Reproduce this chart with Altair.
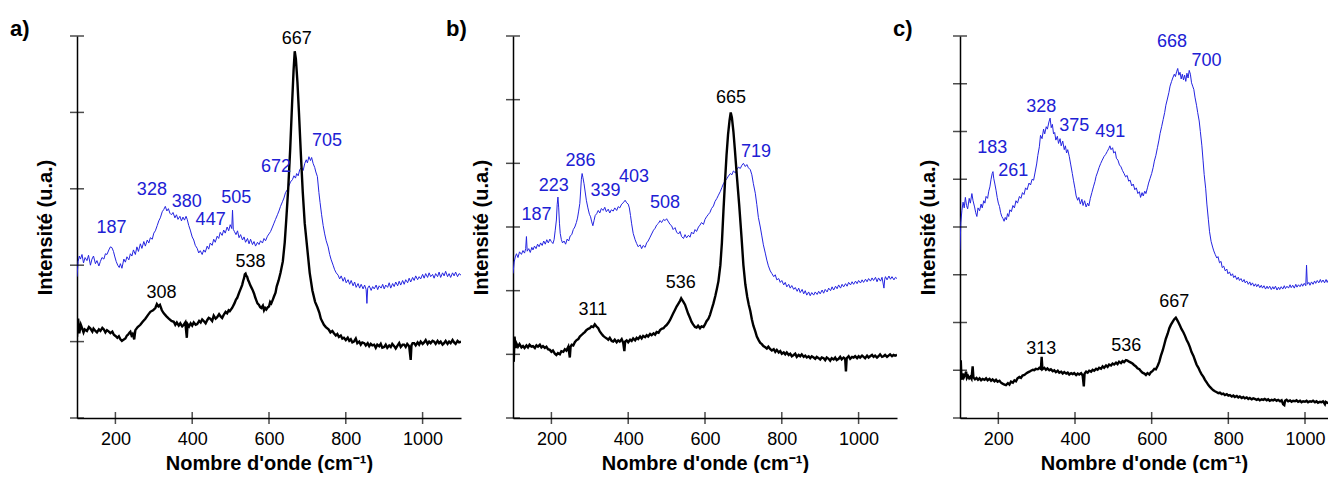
import altair as alt
import pandas as pd

FONT = "Liberation Sans"
BLUE_LINE = "#2424e0"
BLUE_TXT = "#2020d4"

# ---------------- panel a ----------------
wa_k = [100,103,106,110,113,117,120,126,131,135,140,143,148,152,157,161,166,170,174,178,183,187,192,196,201,205,209,213,217,220,226,230,233,237,239,242,245,249,252,258,265,271,278,285,291,298,304,308,312,316,321,326,333,339,346,352,356,360,365,369,374,378,382,386,388,392,396,400,404,409,413,418,422,426,430,435,439,443,447,452,456,461,465,470,474,478,482,487,491,495,498,504,510,514,517,520,523,527,530,533,535,537,539,541,543,546,548,551,554,557,561,564,567,570,574,577,580,584,587,590,593,597,600,603,606,610,613,617,620,625,630,636,641,645,650,655,660,664,667,670,674,678,683,688,693,700,706,713,720,726,731,735,739,743,748,755,760,765,769,774,778,782,787,791,795,800,805,809,813,817,821,826,830,835,839,843,848,852,857,861,865,869,874,878,882,887,891,895,900,904,908,913,917,921,926,930,935,939,943,948,952,956,960,965,969,971,974,978,982,987,991,995,1000,1004,1008,1013,1017,1021,1026,1030,1034,1039,1043,1047,1052,1056,1060,1065,1069,1073,1078,1082,1086,1091,1095,1100]
ia_k = [1.06,1.30,1.11,1.22,1.18,1.12,1.16,1.14,1.19,1.17,1.13,1.17,1.14,1.12,1.16,1.14,1.18,1.16,1.12,1.15,1.13,1.11,1.13,1.09,1.07,1.05,1.07,1.03,1.01,1.02,1.04,1.08,1.09,1.12,1.13,1.08,1.10,1.03,1.15,1.19,1.22,1.26,1.30,1.35,1.39,1.41,1.44,1.49,1.46,1.48,1.41,1.37,1.33,1.30,1.27,1.26,1.22,1.25,1.21,1.24,1.20,1.22,1.25,1.05,1.23,1.20,1.24,1.21,1.25,1.22,1.23,1.27,1.25,1.29,1.27,1.24,1.28,1.31,1.30,1.27,1.34,1.30,1.32,1.36,1.33,1.31,1.35,1.39,1.37,1.41,1.40,1.44,1.50,1.55,1.57,1.61,1.65,1.70,1.74,1.80,1.83,1.88,1.89,1.86,1.85,1.80,1.78,1.74,1.71,1.68,1.63,1.58,1.54,1.50,1.48,1.45,1.44,1.47,1.41,1.44,1.42,1.45,1.46,1.52,1.50,1.55,1.59,1.64,1.72,1.80,1.90,2.05,2.30,2.60,3.00,3.50,4.10,4.55,4.80,4.70,4.40,4.00,3.45,2.95,2.55,2.20,1.90,1.67,1.52,1.45,1.38,1.30,1.26,1.22,1.19,1.16,1.12,1.14,1.11,1.08,1.10,1.06,1.08,1.04,1.05,1.02,1.05,1.01,1.03,0.99,1.00,1.04,0.98,1.00,0.96,0.99,0.98,0.95,0.98,0.94,0.97,0.95,0.96,0.92,0.96,0.94,0.97,0.92,0.93,0.96,0.92,0.95,0.93,0.97,0.94,0.91,0.95,0.98,0.93,0.96,0.96,0.93,0.97,0.94,0.76,0.95,0.98,0.98,0.95,0.99,0.96,1.00,0.97,0.99,1.02,0.97,1.00,0.98,1.01,1.00,0.97,1.01,0.98,1.00,0.96,0.98,1.01,0.97,1.00,0.98,1.02,0.99,0.97,1.01,0.99,1.00]

wa_b = [100,103,106,109,113,117,121,126,130,135,139,143,148,152,157,161,165,170,174,178,183,187,191,195,198,202,206,210,213,217,222,226,230,235,239,243,247,252,256,260,265,269,274,278,283,287,291,296,300,304,309,313,317,322,326,330,334,338,342,346,350,355,359,363,368,372,376,380,384,387,391,395,400,404,408,413,417,421,426,430,434,439,443,447,452,456,460,465,469,473,478,482,486,491,495,499,503,505,507,510,514,518,522,526,531,535,539,544,548,552,557,561,565,570,574,578,583,587,591,596,600,604,609,613,617,622,626,630,635,639,643,648,652,656,661,665,669,672,676,680,685,689,693,697,700,704,708,711,715,719,722,726,730,733,737,741,745,749,754,758,762,767,771,775,780,784,788,793,797,801,806,810,814,819,823,827,832,836,840,845,849,853,855,857,861,866,870,874,879,883,887,892,896,900,904,909,913,917,922,926,930,935,939,943,948,952,956,961,965,969,974,978,982,987,991,995,1000,1004,1008,1013,1017,1021,1026,1030,1034,1039,1043,1047,1052,1056,1060,1065,1069,1073,1078,1082,1086,1091,1095,1100]
ia_b = [1.85,2.05,2.12,2.08,2.14,2.03,2.10,2.06,2.13,2.00,2.08,2.12,2.02,2.06,1.99,2.05,2.10,2.08,2.15,2.14,2.20,2.24,2.23,2.18,2.12,2.05,2.00,1.97,2.02,1.96,2.08,2.04,2.11,2.07,2.15,2.12,2.20,2.14,2.24,2.18,2.28,2.22,2.31,2.25,2.33,2.29,2.36,2.34,2.42,2.45,2.52,2.58,2.62,2.70,2.73,2.77,2.71,2.74,2.68,2.66,2.69,2.62,2.66,2.60,2.64,2.58,2.63,2.59,2.64,2.60,2.52,2.46,2.37,2.33,2.26,2.22,2.16,2.19,2.14,2.20,2.17,2.25,2.21,2.29,2.26,2.34,2.30,2.38,2.35,2.43,2.39,2.46,2.42,2.50,2.45,2.53,2.48,2.72,2.47,2.44,2.40,2.45,2.36,2.40,2.33,2.37,2.30,2.35,2.28,2.34,2.27,2.31,2.25,2.30,2.27,2.32,2.29,2.35,2.32,2.38,2.41,2.44,2.50,2.55,2.60,2.66,2.71,2.77,2.83,2.88,2.95,2.99,3.04,3.09,3.12,3.17,3.14,3.20,3.17,3.25,3.28,3.24,3.33,3.38,3.34,3.42,3.37,3.41,3.33,3.28,3.22,3.16,2.95,2.82,2.66,2.52,2.41,2.32,2.24,2.14,2.07,2.00,1.94,1.90,1.87,1.82,1.86,1.79,1.84,1.77,1.81,1.75,1.80,1.73,1.78,1.71,1.76,1.70,1.75,1.69,1.74,1.68,1.50,1.70,1.73,1.67,1.72,1.69,1.74,1.68,1.73,1.70,1.75,1.69,1.74,1.71,1.77,1.70,1.76,1.72,1.78,1.73,1.79,1.74,1.80,1.75,1.81,1.77,1.83,1.78,1.84,1.80,1.86,1.81,1.85,1.82,1.88,1.83,1.89,1.84,1.90,1.85,1.88,1.83,1.89,1.85,1.91,1.84,1.90,1.86,1.92,1.85,1.89,1.84,1.90,1.86,1.91,1.85,1.89,1.87]

la_k_txt = ["667", "308", "538"]
la_k_w = [672, 320, 552]
la_k_v = [4.96, 1.64, 2.04]
la_b_txt = ["187", "328", "380", "447", "505", "672", "705"]
la_b_w = [190, 295, 386, 448, 515, 618, 751]
la_b_v = [2.49, 2.98, 2.83, 2.59, 2.88, 3.28, 3.62]

# ---------------- panel b ----------------
wb_k = [100,102,104,107,109,113,117,122,126,130,135,139,143,148,152,157,161,165,170,174,178,183,187,191,196,200,204,209,213,217,222,226,231,235,239,244,248,250,253,257,261,265,270,274,278,283,287,291,296,300,304,309,313,317,322,326,331,335,339,344,348,352,357,361,365,370,374,378,383,387,390,392,396,400,405,409,413,418,422,426,431,435,439,444,448,452,457,461,466,470,474,479,483,487,492,496,500,505,509,513,517,522,526,530,535,538,540,543,546,548,552,556,561,565,569,574,578,582,587,591,596,600,604,609,613,617,622,627,631,635,640,644,648,652,656,660,664,667,670,674,678,683,689,695,700,705,710,714,718,722,726,731,735,740,744,748,752,757,761,765,770,774,779,783,787,792,796,800,805,809,813,818,822,826,831,835,839,844,848,852,857,861,865,870,874,878,883,887,891,896,900,904,909,913,917,922,926,930,935,939,943,948,952,956,961,965,967,969,974,978,983,987,991,996,1000,1004,1009,1013,1017,1022,1026,1030,1035,1039,1043,1048,1052,1056,1061,1065,1069,1074,1078,1082,1087,1091,1095,1100]
ib_k = [1.02,0.88,1.28,1.10,1.17,1.12,1.16,1.11,1.13,1.10,1.14,1.11,1.15,1.12,1.13,1.10,1.14,1.12,1.15,1.11,1.13,1.10,1.12,1.08,1.07,1.04,1.06,1.01,0.99,1.02,1.00,1.05,1.04,1.08,1.06,1.12,0.95,1.12,1.15,1.14,1.19,1.22,1.24,1.28,1.30,1.33,1.35,1.38,1.40,1.41,1.44,1.43,1.47,1.44,1.41,1.36,1.32,1.29,1.27,1.25,1.23,1.26,1.21,1.20,1.23,1.19,1.22,1.20,1.24,1.18,1.05,1.20,1.22,1.19,1.23,1.21,1.25,1.22,1.26,1.24,1.28,1.25,1.29,1.27,1.30,1.28,1.32,1.30,1.33,1.31,1.35,1.34,1.38,1.40,1.41,1.44,1.46,1.50,1.54,1.59,1.64,1.70,1.75,1.79,1.84,1.88,1.86,1.83,1.80,1.78,1.71,1.64,1.57,1.51,1.47,1.43,1.42,1.45,1.41,1.44,1.43,1.47,1.52,1.56,1.62,1.70,1.80,1.92,2.03,2.15,2.40,2.75,3.25,3.70,4.12,4.45,4.68,4.80,4.72,4.50,4.20,3.80,3.35,2.85,2.40,2.10,1.90,1.78,1.68,1.55,1.45,1.36,1.28,1.22,1.18,1.16,1.13,1.11,1.09,1.12,1.08,1.06,1.08,1.04,1.07,1.03,1.05,1.01,1.03,1.00,1.03,0.99,1.01,0.97,0.99,1.01,0.96,0.99,0.97,1.00,0.96,0.98,0.95,0.97,0.94,0.97,0.95,0.93,0.96,0.94,0.92,0.95,0.94,0.91,0.95,0.93,0.90,0.94,0.92,0.95,0.91,0.93,0.96,0.92,0.95,0.93,0.73,0.94,0.97,0.93,0.96,0.95,0.97,0.94,0.97,0.95,0.98,0.96,0.94,0.98,0.95,0.97,0.99,0.96,0.98,0.95,0.97,1.00,0.96,0.97,0.99,0.96,0.98,1.00,0.97,0.99,0.98,0.99]

wb_b = [100,103,106,109,113,117,122,126,130,133,135,137,141,145,149,152,156,160,164,168,172,176,180,184,188,192,196,200,204,207,210,213,215,217,219,221,223,226,229,233,237,241,245,249,253,257,261,265,268,271,274,276,278,280,282,285,288,291,295,299,302,305,308,311,314,318,322,326,330,335,339,343,348,352,356,361,365,370,374,378,383,387,392,396,400,403,406,409,413,418,422,426,431,435,439,444,448,452,457,461,466,470,474,479,483,487,492,496,500,505,509,513,517,522,526,531,535,539,544,548,552,557,561,565,570,574,578,583,587,591,596,600,604,609,613,617,622,626,631,635,640,644,648,652,657,661,666,670,674,679,683,687,692,696,700,705,709,713,718,722,726,731,735,739,744,748,752,757,761,765,770,774,779,783,787,792,796,800,805,809,813,818,822,826,831,835,840,844,848,853,857,861,865,870,874,878,883,887,892,896,900,905,909,913,918,922,927,931,935,940,944,948,953,957,961,966,970,974,979,983,987,992,996,1000,1005,1009,1013,1018,1022,1026,1031,1035,1039,1044,1048,1052,1057,1061,1066,1068,1070,1074,1079,1083,1087,1092,1096,1100]
ib_b = [2.27,2.45,2.53,2.58,2.52,2.61,2.57,2.63,2.59,2.66,2.85,2.62,2.66,2.60,2.68,2.64,2.70,2.66,2.73,2.69,2.75,2.71,2.78,2.73,2.80,2.75,2.81,2.77,2.74,2.80,2.95,3.11,3.35,3.47,3.30,3.06,2.90,2.80,2.75,2.78,2.73,2.81,2.78,2.86,2.88,2.96,3.00,3.07,3.14,3.25,3.37,3.55,3.75,3.84,3.78,3.68,3.55,3.42,3.30,3.20,3.16,3.08,3.02,3.10,3.18,3.21,3.26,3.22,3.29,3.26,3.31,3.24,3.28,3.22,3.27,3.25,3.30,3.26,3.32,3.30,3.36,3.38,3.42,3.38,3.36,3.30,3.18,3.05,2.90,2.80,2.74,2.69,2.72,2.66,2.71,2.68,2.75,2.78,2.84,2.89,2.95,2.98,3.03,3.06,3.10,3.07,3.12,3.10,3.13,3.08,3.04,3.02,2.96,2.99,2.92,2.89,2.93,2.85,2.82,2.88,2.83,2.87,2.84,2.92,2.89,2.96,2.93,3.00,3.03,3.07,3.04,3.12,3.16,3.20,3.23,3.29,3.33,3.40,3.45,3.50,3.56,3.62,3.68,3.72,3.76,3.80,3.84,3.82,3.88,3.85,3.90,3.94,3.92,3.97,4.00,3.95,3.98,3.93,3.90,3.82,3.68,3.53,3.35,3.15,3.00,2.86,2.72,2.59,2.48,2.39,2.31,2.27,2.22,2.25,2.17,2.19,2.13,2.16,2.09,2.13,2.06,2.10,2.04,2.08,2.02,2.05,1.99,2.04,1.97,2.02,1.95,2.00,1.93,1.98,1.92,1.97,1.93,1.98,1.94,1.99,1.95,2.01,1.96,2.02,1.98,2.04,2.00,2.06,2.01,2.07,2.03,2.09,2.04,2.10,2.06,2.11,2.07,2.13,2.09,2.14,2.10,2.15,2.11,2.16,2.12,2.17,2.13,2.18,2.14,2.19,2.15,2.20,2.16,2.21,2.14,2.20,2.15,2.21,2.04,2.18,2.22,2.17,2.23,2.18,2.22,2.17,2.21,2.19]

lb_k_txt = ["665", "536", "311"]
lb_k_w = [668, 537, 308]
lb_k_v = [5.02, 2.12, 1.70]
lb_b_txt = ["187", "223", "286", "339", "403", "508", "719"]
lb_b_w = [161, 206, 276, 341, 415, 496, 733]
lb_b_v = [3.19, 3.64, 4.03, 3.57, 3.79, 3.37, 4.18]

# ---------------- panel c ----------------
wc_k = [100,102,104,107,110,113,116,118,121,124,127,130,133,135,139,143,147,151,155,159,164,168,172,177,181,185,190,194,198,203,207,211,216,220,225,229,233,238,242,246,250,255,259,263,268,272,276,281,285,290,294,298,303,307,311,313,315,320,324,328,333,337,342,346,350,355,359,364,368,372,377,381,385,390,394,398,403,407,411,416,420,423,425,429,433,437,442,446,450,455,459,463,468,472,476,481,485,489,494,498,502,507,511,515,520,524,528,533,537,541,546,550,554,559,563,568,572,576,581,585,589,594,598,602,607,611,616,620,624,629,633,637,642,646,650,655,659,663,666,670,674,678,683,687,691,696,700,704,709,713,717,722,726,730,735,739,743,748,752,757,761,765,770,774,778,783,787,791,796,800,804,809,813,817,822,826,830,835,839,843,848,852,856,861,865,869,874,878,882,887,891,895,900,904,908,913,917,921,926,930,935,939,943,946,948,952,956,961,965,969,974,978,982,987,991,995,1000,1004,1008,1013,1017,1021,1026,1030,1034,1039,1043,1047,1052,1054,1058,1063,1067,1071,1076,1080]
ic_k = [0.87,1.21,0.80,0.93,0.85,0.90,0.97,0.84,0.88,0.83,0.86,0.82,1.08,0.85,0.81,0.84,0.80,0.83,0.79,0.82,0.80,0.83,0.79,0.82,0.78,0.81,0.77,0.80,0.76,0.78,0.74,0.72,0.70,0.69,0.73,0.70,0.76,0.74,0.79,0.77,0.83,0.86,0.84,0.89,0.90,0.93,0.95,0.97,0.99,1.01,1.00,1.03,1.02,1.05,1.03,1.28,1.02,1.05,1.01,1.04,1.00,1.02,0.98,1.00,0.96,0.99,0.95,0.97,0.93,0.96,0.93,0.95,0.91,0.94,0.92,0.94,0.90,0.93,0.91,0.94,0.89,0.66,0.93,0.97,0.95,0.99,0.97,1.01,0.99,1.03,1.01,1.05,1.03,1.08,1.05,1.10,1.07,1.12,1.10,1.14,1.12,1.16,1.13,1.18,1.15,1.19,1.17,1.21,1.20,1.18,1.16,1.14,1.11,1.08,1.04,1.02,0.98,0.95,0.93,0.90,0.94,0.91,0.96,0.98,1.03,1.02,1.10,1.18,1.30,1.42,1.54,1.66,1.77,1.88,1.95,2.02,2.07,2.10,2.06,2.00,1.93,1.86,1.79,1.72,1.64,1.56,1.48,1.38,1.30,1.21,1.12,1.05,0.98,0.92,0.86,0.80,0.75,0.69,0.65,0.61,0.58,0.56,0.54,0.52,0.53,0.50,0.51,0.48,0.50,0.47,0.48,0.45,0.47,0.44,0.46,0.43,0.45,0.42,0.44,0.41,0.43,0.40,0.42,0.39,0.41,0.40,0.38,0.40,0.37,0.39,0.38,0.40,0.37,0.39,0.36,0.38,0.37,0.39,0.36,0.38,0.35,0.37,0.29,0.27,0.36,0.38,0.35,0.37,0.34,0.36,0.35,0.37,0.34,0.36,0.33,0.35,0.34,0.36,0.33,0.35,0.34,0.36,0.33,0.35,0.32,0.34,0.33,0.35,0.29,0.34,0.32,0.31,0.34,0.30,0.33,0.32]

wc_b = [100,102,105,108,111,114,117,120,124,127,131,134,138,141,144,147,151,155,158,162,165,168,172,175,178,181,184,186,188,191,194,197,200,203,206,209,212,215,218,221,224,227,230,234,238,242,246,250,255,259,263,267,271,275,280,284,288,292,296,300,303,307,310,314,318,321,325,328,332,335,338,341,344,347,350,354,357,361,364,368,372,375,378,381,385,389,393,396,400,403,407,410,414,418,421,425,429,433,436,440,444,448,452,455,459,463,467,471,476,480,484,488,491,494,498,501,505,508,512,516,520,524,528,532,536,540,544,548,552,556,560,564,568,571,575,578,582,585,589,592,596,600,604,607,611,615,619,622,626,630,634,637,641,645,648,652,655,659,662,665,668,671,674,677,680,683,686,689,692,695,698,701,704,707,710,713,717,720,724,727,731,734,737,741,744,748,751,755,759,762,766,770,773,777,781,784,788,792,796,799,803,807,811,814,818,822,826,829,833,837,841,844,848,852,856,859,863,867,871,874,878,882,886,889,893,897,901,904,908,912,916,919,923,927,931,934,938,942,946,949,953,957,961,964,968,972,976,979,983,987,991,994,998,1002,1004,1006,1010,1013,1017,1021,1025,1028,1032,1036,1040,1043,1047,1051,1055,1058,1062,1066,1070,1073,1077,1080]
ic_b = [3.52,4.08,4.35,4.52,4.40,4.62,4.45,4.38,4.60,4.50,4.70,4.55,4.42,4.30,4.22,4.40,4.34,4.48,4.40,4.55,4.50,4.64,4.60,4.75,4.84,5.00,5.12,5.16,5.02,4.90,4.77,4.62,4.50,4.43,4.30,4.22,4.18,4.12,4.20,4.15,4.28,4.22,4.36,4.32,4.45,4.40,4.55,4.50,4.64,4.60,4.72,4.68,4.82,4.78,4.92,4.88,5.00,4.98,5.15,5.32,5.50,5.68,5.92,5.85,6.05,5.95,6.10,6.05,6.20,6.28,6.08,6.15,5.95,5.98,5.82,5.90,5.75,5.85,5.70,5.80,5.62,5.70,5.55,5.62,5.48,5.30,5.12,4.98,4.80,4.65,4.56,4.62,4.48,4.58,4.45,4.55,4.42,4.50,4.44,4.60,4.72,4.84,4.95,5.06,5.15,5.25,5.33,5.40,5.48,5.52,5.58,5.64,5.70,5.62,5.66,5.55,5.58,5.44,5.40,5.30,5.26,5.18,5.12,5.05,5.08,4.96,4.98,4.86,4.90,4.78,4.82,4.70,4.74,4.62,4.72,4.65,4.75,4.70,4.82,4.92,5.02,5.12,5.25,5.38,5.50,5.66,5.82,5.96,6.10,6.25,6.40,6.55,6.68,6.82,6.95,7.05,7.12,7.20,7.15,7.25,7.32,7.18,7.24,7.10,7.20,7.08,7.18,7.05,7.22,7.12,7.28,7.20,7.02,6.95,6.88,6.72,6.55,6.40,6.22,6.00,5.70,5.40,5.10,4.80,4.48,4.15,3.90,3.70,3.58,3.50,3.42,3.35,3.38,3.25,3.28,3.15,3.18,3.08,3.12,3.02,3.06,2.98,3.02,2.94,2.98,2.90,2.95,2.88,2.92,2.85,2.90,2.83,2.87,2.80,2.85,2.78,2.83,2.76,2.81,2.75,2.80,2.73,2.78,2.72,2.77,2.70,2.76,2.71,2.76,2.69,2.75,2.70,2.76,2.68,2.74,2.69,2.75,2.70,2.77,2.71,2.76,2.72,2.79,2.73,2.78,2.72,2.80,2.74,2.79,2.75,2.81,2.76,2.82,2.77,3.20,2.80,2.84,2.78,2.85,2.80,2.87,2.82,2.88,2.83,2.90,2.84,2.89,2.83,2.90,2.84,2.91,2.85,2.90,2.84,2.89,2.85]

lc_k_txt = ["667", "313", "536"]
lc_k_w = [659, 312, 534]
lc_k_v = [2.43, 1.44, 1.51]
lc_b_txt = ["668", "700", "328", "375", "491", "183", "261"]
lc_b_w = [653, 743, 312, 398, 492, 184, 239]
lc_b_v = [7.87, 7.48, 6.51, 6.12, 6.00, 5.66, 5.17]

x_ticks = [200, 400, 600, 800, 1000]
panel_names = ["a)", "b)", "c)"]

H = 382


def panel(name, wk, ik, wb, ib, ymax, xmax, width, lk, lb):
    xs = alt.Scale(domain=[100, xmax], nice=False, zero=False)
    ys = alt.Scale(domain=[0, ymax], nice=False, zero=False)
    xax = alt.Axis(values=x_ticks, format="d", ticks=False, grid=False, labelFontSize=18,
                   labelFont=FONT, labelColor="black", labelPadding=12,
                   title="Nombre d'onde (cm\u207b\u00b9)", titleFont=FONT,
                   titleFontSize=20, titleFontWeight="bold", titleColor="black",
                   titlePadding=5, domainColor="black", domainWidth=1.5)
    yax = alt.Axis(values=list(range(ymax + 1)), ticks=False, labels=False, grid=False,
                   title="Intensité (u.a.)", titleFont=FONT, titleFontSize=20,
                   titleFontWeight="bold", titleColor="black", titlePadding=22,
                   domainColor="black", domainWidth=1.5)
    dk = pd.DataFrame({"w": wk, "v": ik})
    db = pd.DataFrame({"w": wb, "v": ib})
    blue = alt.Chart(db).mark_line(color=BLUE_LINE, strokeWidth=1, clip=True).encode(
        x=alt.X("w:Q", scale=xs, axis=xax), y=alt.Y("v:Q", scale=ys, axis=yax))
    black = alt.Chart(dk).mark_line(color="black", strokeWidth=2.4, clip=True).encode(
        x="w:Q", y="v:Q")
    yt = alt.Chart(pd.DataFrame({"t": list(range(ymax + 1))})).mark_tick(
        orient="horizontal", size=14, thickness=1.5, color="black").encode(
        x=alt.datum(100), y="t:Q")
    xt = alt.Chart(pd.DataFrame({"t": x_ticks})).mark_tick(
        orient="vertical", size=12, thickness=1.5, color="black").encode(
        x="t:Q", y=alt.datum(0))
    tk = alt.Chart(pd.DataFrame({"w": lk[1], "v": lk[2], "t": lk[0]})).mark_text(
        font=FONT, fontSize=18, color="black", baseline="middle").encode(
        x="w:Q", y="v:Q", text="t:N")
    tb = alt.Chart(pd.DataFrame({"w": lb[1], "v": lb[2], "t": lb[0]})).mark_text(
        font=FONT, fontSize=18, color=BLUE_TXT, baseline="middle").encode(
        x="w:Q", y="v:Q", text="t:N")
    tag = alt.Chart(pd.DataFrame({"t": [name]})).mark_text(
        font=FONT, fontSize=22, fontWeight="bold", color="black",
        align="left", baseline="alphabetic").encode(
        x=alt.value(-67), y=alt.value(0), text="t:N")
    return alt.layer(blue, black, yt, xt, tk, tb, tag).properties(width=width, height=H)


def spacer(w):
    return alt.Chart(pd.DataFrame({"a": [0]})).mark_point(opacity=0).encode(
        x=alt.value(0), y=alt.value(0)).properties(width=w, height=H)


pa = panel(panel_names[0], wa_k, ia_k, wa_b, ia_b, 5, 1100, 384,
           (la_k_txt, la_k_w, la_k_v), (la_b_txt, la_b_w, la_b_v))
pb = panel(panel_names[1], wb_k, ib_k, wb_b, ib_b, 6, 1100, 384,
           (lb_k_txt, lb_k_w, lb_k_v), (lb_b_txt, lb_b_w, lb_b_v))
pc = panel(panel_names[2], wc_k, ic_k, wc_b, ic_b, 8, 1060, 368,
           (lc_k_txt, lc_k_w, lc_k_v), (lc_b_txt, lc_b_w, lc_b_v))

chart = alt.hconcat(pa, spacer(52), pb, spacer(63), pc, spacing=0, bounds="flush").properties(
    padding={"left": 2, "top": 10, "right": 0, "bottom": 0}
).configure_view(strokeWidth=0)

chart.save("out.html", embed_options={"renderer": "svg", "actions": False})
